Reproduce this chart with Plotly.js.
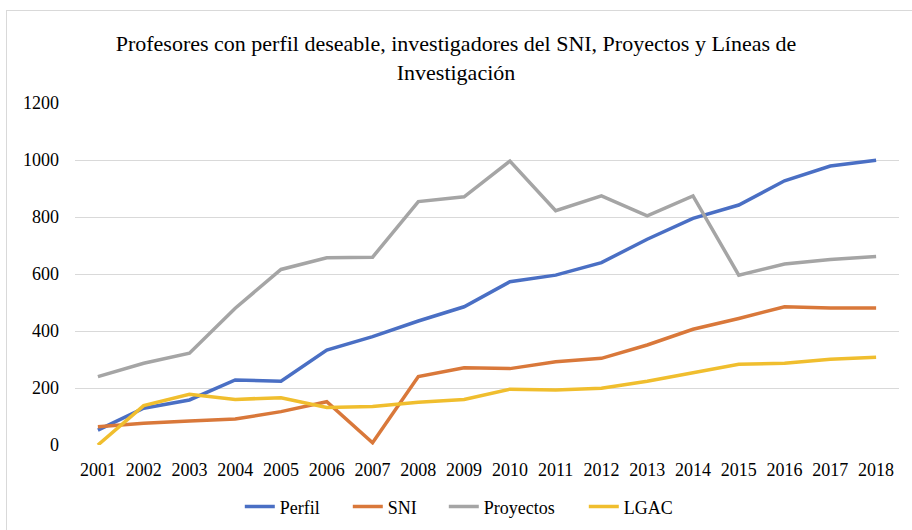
<!DOCTYPE html>
<html>
<head>
<meta charset="utf-8">
<script src="https://cdn.plot.ly/plotly-3.0.1.min.js"></script>
<style>
  html, body { margin: 0; padding: 0; background: #fff; }
  #frame { position: absolute; left: 6px; top: 10px; width: 920px; height: 530px; border: 1px solid #d9d9d9; box-sizing: border-box; }
  #chart { position: absolute; left: 0; top: 0; width: 912px; height: 530px; }
</style>
</head>
<body>
<div id="frame"></div>
<div id="chart"></div>
<script>
const years = ['2001','2002','2003','2004','2005','2006','2007','2008','2009','2010','2011','2012','2013','2014','2015','2016','2017','2018'];
const perfil    = [52, 129, 158, 228, 224, 333, 380, 435, 485, 573, 596, 640, 722, 795, 842, 927, 979, 999];
const sni       = [64, 76, 84, 91, 117, 152, 8, 240, 271, 268, 292, 304, 351, 406, 444, 485, 481, 481];
const proyectos = [240, 287, 322, 480, 616, 657, 659, 854, 871, 996, 822, 874, 804, 874, 596, 635, 651, 661];
const lgac      = [0, 138, 178, 160, 166, 132, 135, 150, 160, 196, 193, 199, 224, 254, 283, 287, 301, 308];
const yTicks = [0, 200, 400, 600, 800, 1000, 1200];

const font = 'Liberation Serif';
function tr(name, y, color, lw) {
  return { x: years, y: y, name: name, type: 'scatter', mode: 'lines',
           line: { color: color, width: 3.5 }, legendwidth: lw, hoverinfo: 'x+y+name' };
}
const data = [
  tr('Perfil', perfil, '#4A6FC4', 63),
  tr('SNI', sni, '#D9783A', 51),
  tr('Proyectos', proyectos, '#A5A5A5', 95),
  tr('LGAC', lgac, '#F0BE2E', 60)
];
const layout = {
  width: 912, height: 530,
  margin: { l: 75, r: 13, t: 103, b: 85, autoexpand: false },
  paper_bgcolor: 'rgba(0,0,0,0)', plot_bgcolor: 'rgba(0,0,0,0)',
  font: { family: font, size: 18, color: '#000' },
  title: { text: 'Profesores con perfil deseable, investigadores del SNI, Proyectos y Líneas de<br>Investigación',
           font: { family: font, size: 22, color: '#000' }, x: 0.5, xanchor: 'center', y: 0.903, yanchor: 'middle' },
  xaxis: { type: 'category', range: [-0.5, 17.5], showgrid: false, zeroline: false, showline: false,
           tickfont: { family: font, size: 18, color: '#000' }, ticks: '', ticklabelstandoff: 12, fixedrange: true },
  yaxis: { range: [0, 1200], tickvals: yTicks, ticktext: yTicks.map(String),
           showgrid: true, gridcolor: '#d9d9d9', gridwidth: 1, zeroline: false, showline: false,
           tickfont: { family: font, size: 18, color: '#000' }, ticks: '', ticklabelstandoff: 15, fixedrange: true },
  showlegend: true,
  legend: { orientation: 'h', x: 0.2, xanchor: 'left', y: -0.181, yanchor: 'middle',
            font: { family: font, size: 18, color: '#000' } }
};
Plotly.newPlot('chart', data, layout, { displayModeBar: false, staticPlot: true });
</script>
</body>
</html>
